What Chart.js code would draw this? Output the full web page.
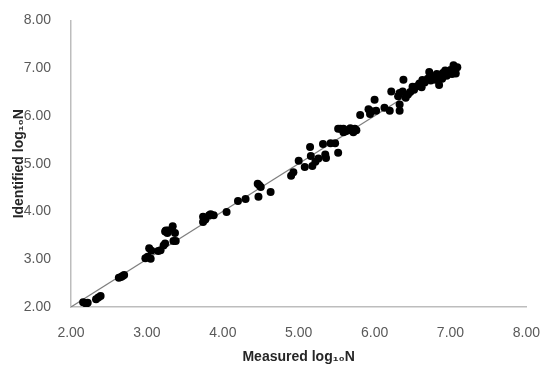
<!DOCTYPE html>
<html>
<head>
<meta charset="utf-8">
<script src="https://cdn.jsdelivr.net/npm/chart.js@4.4.0/dist/chart.umd.min.js"></script>
<style>
  html, body { margin:0; padding:0; background:#fff; }
  #wrap { width:550px; height:370px; }
</style>
</head>
<body>
<div id="wrap"><canvas id="c" width="550" height="370"></canvas></div>
<script>
// measured vs identified log10N
const measured = [2.16,2.20,2.22,2.33,2.36,2.39,2.63,2.66,2.68,2.70,
  2.98,3.01,3.03,3.05,3.06,3.15,3.18,3.22,3.24,3.25,3.24,3.28,3.27,3.34,3.37,3.35,3.38,
  3.74,3.74,3.77,3.82,3.84,3.88,4.05,4.20,4.30,4.46,4.48,4.50,4.47,4.63,
  4.90,4.93,5.00,5.08,5.15,5.16,5.18,5.22,5.26,5.32,5.35,5.36,5.42,5.48,5.52,
  5.55,5.59,5.52,5.59,5.62,5.65,5.68,5.72,5.74,5.76,
  5.81,5.92,5.94,5.96,6.00,6.02,6.13,6.20,6.22,6.33,6.33,6.31,6.33,6.37,6.38,6.41,
  6.44,6.47,6.50,6.52,6.56,6.59,6.62,6.63,6.66,6.70,6.72,6.74,6.78,6.80,6.82,6.85,
  6.85,6.87,6.89,6.90,6.93,6.95,6.98,7.00,7.02,7.04,7.07,7.09,7.06];
const identified = [2.10,2.07,2.09,2.16,2.20,2.23,2.61,2.63,2.65,2.67,
  3.02,3.05,3.23,3.01,3.18,3.17,3.19,3.29,3.33,3.60,3.58,3.60,3.55,3.69,3.55,3.38,3.38,
  3.89,3.78,3.83,3.92,3.94,3.92,3.99,4.22,4.26,4.58,4.55,4.51,4.31,4.41,
  4.75,4.82,5.06,4.93,5.35,5.16,4.95,5.04,5.11,5.41,5.19,5.12,5.43,5.43,5.23,
  5.73,5.66,5.73,5.73,5.68,5.70,5.74,5.66,5.73,5.70,
  6.02,6.14,6.04,6.10,6.34,6.11,6.17,6.11,6.51,6.24,6.11,6.41,6.48,6.51,6.76,6.38,
  6.45,6.50,6.61,6.55,6.62,6.68,6.60,6.75,6.70,6.78,6.92,6.74,6.82,6.76,6.88,6.85,
  6.65,6.80,6.78,6.90,6.95,6.84,6.89,6.96,6.88,7.06,6.89,7.02,6.95];
// 1:1 line
const lineX = [2.0, 7.08];
const lineY = [2.0, 7.08];
const xTitle = "Measured log\u2081\u2080N";
const yTitle = "Identified log\u2081\u2080N";

const pts = measured.map((x,i)=>({x, y:identified[i]}));
const linePts = lineX.map((x,i)=>({x, y:lineY[i]}));

const tickFont = { family:"'Liberation Sans', Arial, sans-serif", size:14 };
const titleFont = { family:"'Liberation Sans', Arial, sans-serif", size:14, weight:"bold" };

new Chart(document.getElementById("c"), {
  type: "scatter",
  data: {
    datasets: [
      { data: pts, backgroundColor:"#000", borderColor:"#000", pointRadius:4, pointHoverRadius:4, borderWidth:0, order:1 },
      { type:"line", data: linePts, borderColor:"#7f7f7f", borderWidth:1.2, pointRadius:0, fill:false, order:2 }
    ]
  },
  options: {
    responsive:false, animation:false, devicePixelRatio:1,
    layout: { padding: { top:12, right:18, left:0, bottom:0 } },
    plugins: { legend:{display:false}, tooltip:{enabled:false} },
    scales: {
      x: {
        type:"linear", min:2, max:8,
        grid:{ display:false },
        border:{ display:true, color:"#bdbdbd", width:1.5 },
        ticks:{ stepSize:1, color:"#595959", font:tickFont, padding:10, callback:v=>v.toFixed(2) },
        title:{ display:true, text:xTitle, color:"#262626", font:titleFont, padding:{top:6} },
        afterFit: s => { s.height = 63; }
      },
      y: {
        type:"linear", min:2, max:8,
        grid:{ display:false },
        border:{ display:true, color:"#bdbdbd", width:1.5 },
        ticks:{ stepSize:1, color:"#595959", font:tickFont, padding:12, callback:v=>v.toFixed(2) },
        title:{ display:true, text:yTitle, color:"#262626", font:titleFont, padding:{top:11, bottom:4} },
        afterFit: s => { s.width = 71; }
      }
    }
  }
});
</script>
</body>
</html>
